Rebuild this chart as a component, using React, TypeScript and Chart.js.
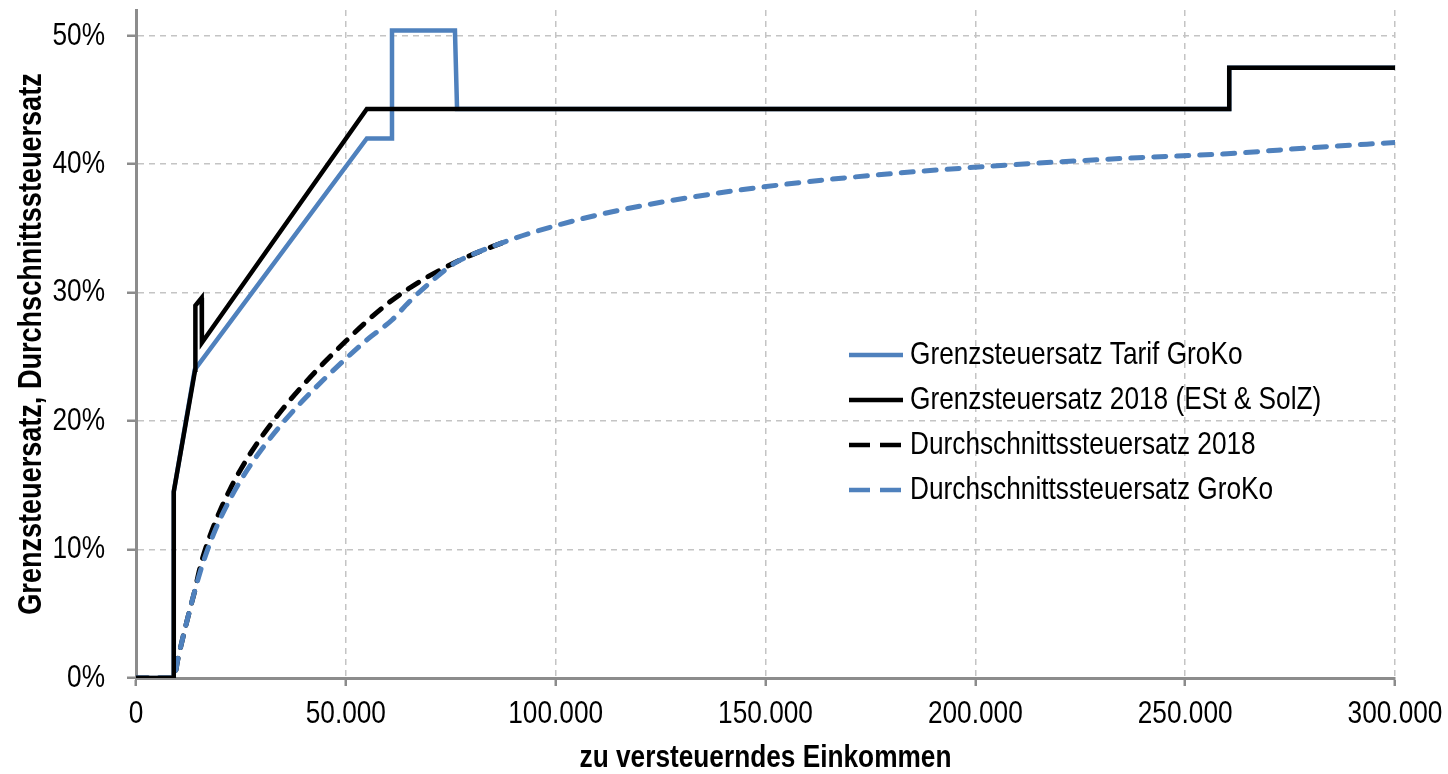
import React, { useEffect, useRef } from 'react';
import { Chart, registerables } from 'chart.js';

Chart.register(...registerables);

// ---- Data (income in EUR, rates in %) ----
const seriesLabels = [
  'Grenzsteuersatz Tarif GroKo',
  'Grenzsteuersatz 2018 (ESt & SolZ)',
  'Durchschnittssteuersatz 2018',
  'Durchschnittssteuersatz GroKo',
];

const grenzGroKoIncome = [0, 9000, 9000, 14000, 55000, 61000, 61000, 76000, 76500, 260500, 260500, 300000];
const grenzGroKoRate = [0, 0, 14.5, 24.0, 42.0, 42.0, 50.4, 50.4, 44.3, 44.3, 47.5, 47.5];

const grenz2018Income = [0, 9000, 9000, 14100, 14150, 15650, 15700, 55000, 260500, 260500, 300000];
const grenz2018Rate = [0, 0, 14.5, 24.0, 29.0, 29.6, 26.1, 44.3, 44.3, 47.5, 47.5];

const avg2018Income = [0, 9000, 10000, 11000, 12000, 13000, 14000, 15000, 16000, 18000, 20000, 22500, 25000, 27500, 30000, 35000, 40000, 45000, 50000, 55000, 60000, 65000, 70000, 76000, 80000, 88000];
const avg2018Rate = [0, 0, 1.5, 2.91, 4.25, 5.54, 6.78, 8.24, 9.48, 11.39, 13.01, 14.75, 16.26, 17.6, 18.81, 20.96, 22.87, 24.61, 26.23, 27.77, 29.15, 30.32, 31.32, 32.34, 32.94, 33.97];

const avgGroKoIncome = [0, 9000, 10000, 11000, 12000, 13000, 14000, 15000, 16000, 18000, 20000, 22500, 25000, 27500, 30000, 35000, 40000, 45000, 50000, 55000, 61000, 65000, 70000, 76000, 80000, 90000, 100000, 110000, 120000, 140000, 160000, 180000, 200000, 220000, 240000, 260000, 280000, 300000];
const avgGroKoRate = [0, 0, 1.5, 2.91, 4.25, 5.54, 6.78, 7.94, 8.99, 10.8, 12.34, 13.98, 15.41, 16.68, 17.83, 19.87, 21.68, 23.32, 24.86, 26.32, 27.87, 29.25, 30.76, 32.31, 32.94, 34.2, 35.21, 36.04, 36.73, 37.81, 38.63, 39.26, 39.76, 40.18, 40.52, 40.81, 41.28, 41.69];

const xTickStep = 50000;
const xMax = 300000;
const yTickStep = 10;
const yMax = 52;

const xTitle = 'zu versteuerndes Einkommen';
const yTitle = 'Grenzsteuersatz, Durchschnittssteuersatz';

// ---- Styles ----
const FONT = "'Liberation Sans', Arial, sans-serif";
const NARROW = 0.82; // horizontal squeeze to imitate a narrow face
const BLUE = '#4F81BD';
const BLACK = '#000000';
const GRID = '#c4c4c4';
const AXIS = '#8c8c8c';

const toPoints = (xs: number[], ys: number[]) => xs.map((x, i) => ({ x, y: ys[i] }));

const fmtThousands = (v: number) =>
  String(Math.round(v)).replace(/\B(?=(\d{3})+(?!\d))/g, '.');

function narrowText(ctx: CanvasRenderingContext2D) {
  const origFill = ctx.fillText.bind(ctx);
  const origMeasure = ctx.measureText.bind(ctx);
  (ctx as any).fillText = (text: string, x: number, y: number, maxWidth?: number) => {
    ctx.save();
    ctx.translate(x, y);
    ctx.scale(NARROW, 1);
    if (maxWidth !== undefined && maxWidth !== null) origFill(text, 0, 0, maxWidth / NARROW);
    else origFill(text, 0, 0);
    ctx.restore();
  };
  (ctx as any).measureText = (text: string) => {
    const m = origMeasure(text);
    return {
      width: m.width * NARROW,
      actualBoundingBoxAscent: m.actualBoundingBoxAscent,
      actualBoundingBoxDescent: m.actualBoundingBoxDescent,
      actualBoundingBoxLeft: m.actualBoundingBoxLeft * NARROW,
      actualBoundingBoxRight: m.actualBoundingBoxRight * NARROW,
      fontBoundingBoxAscent: (m as any).fontBoundingBoxAscent,
      fontBoundingBoxDescent: (m as any).fontBoundingBoxDescent,
    };
  };
}

const insideLegend = {
  id: 'insideLegend',
  afterDraw(chart: any) {
    const ctx = chart.ctx as CanvasRenderingContext2D;
    const x0 = 849;
    const x1 = 903;
    const tx = 910;
    const y0 = 355;
    const row = 45;
    ctx.save();
    ctx.font = `32px ${FONT}`;
    ctx.textBaseline = 'middle';
    ctx.textAlign = 'left';
    chart.data.datasets.forEach((ds: any, i: number) => {
      const y = y0 + i * row;
      ctx.strokeStyle = ds.borderColor;
      ctx.lineWidth = 4.5;
      ctx.lineCap = 'butt';
      ctx.setLineDash(ds.borderDash && ds.borderDash.length ? [21, 10] : []);
      ctx.beginPath();
      ctx.moveTo(x0, y);
      ctx.lineTo(x1, y);
      ctx.stroke();
      ctx.setLineDash([]);
      ctx.fillStyle = '#000';
      ctx.fillText(ds.label, tx, y);
    });
    ctx.restore();
  },
};

export default function App() {
  const canvasRef = useRef<HTMLCanvasElement | null>(null);

  useEffect(() => {
    const canvas = canvasRef.current;
    if (!canvas) return;
    const c2d = canvas.getContext('2d');
    if (c2d) narrowText(c2d);
    const chart = new Chart(canvas, {
      type: 'line',
      data: {
        datasets: [
          {
            label: seriesLabels[0],
            data: toPoints(grenzGroKoIncome, grenzGroKoRate),
            borderColor: BLUE,
            borderWidth: 4.5,
            tension: 0,
            pointRadius: 0,
            fill: false,
            order: 3,
          },
          {
            label: seriesLabels[1],
            data: toPoints(grenz2018Income, grenz2018Rate),
            borderColor: BLACK,
            borderWidth: 4.5,
            tension: 0,
            pointRadius: 0,
            fill: false,
            order: 0,
          },
          {
            label: seriesLabels[2],
            data: toPoints(avg2018Income, avg2018Rate),
            borderColor: BLACK,
            borderWidth: 5,
            borderDash: [12, 11],
            borderCapStyle: 'round',
            cubicInterpolationMode: 'monotone',
            pointRadius: 0,
            fill: false,
            order: 2,
          },
          {
            label: seriesLabels[3],
            data: toPoints(avgGroKoIncome, avgGroKoRate),
            borderColor: BLUE,
            borderWidth: 5,
            borderDash: [12, 11],
            borderCapStyle: 'round',
            cubicInterpolationMode: 'monotone',
            pointRadius: 0,
            fill: false,
            order: 1,
          },
        ],
      } as any,
      plugins: [insideLegend],
      options: {
        animation: false,
        responsive: true,
        maintainAspectRatio: false,
        devicePixelRatio: 1,
        layout: { padding: { top: 10, right: 53, bottom: 0, left: 0 } },
        plugins: {
          legend: { display: false },
          tooltip: { enabled: false },
        },
        scales: {
          x: {
            type: 'linear',
            min: 0,
            max: xMax,
            border: { display: true, color: AXIS, width: 3, dash: [6, 5] },
            grid: {
              color: GRID,
              lineWidth: 1.5,
              drawTicks: true,
              tickLength: 8,
              tickColor: AXIS,
              tickWidth: 2.5,
            },
            ticks: {
              stepSize: xTickStep,
              padding: 9,
              color: '#000',
              font: { family: FONT, size: 32 },
              maxRotation: 0,
              callback: (v: any) => fmtThousands(Number(v)),
            },
            title: {
              display: true,
              text: xTitle,
              color: '#000',
              font: { family: FONT, size: 32, weight: 'bold', lineHeight: 1 },
              padding: { top: 0, bottom: 0 },
            },
            afterFit: (scale: any) => {
              scale.height = 96;
              scale.paddingLeft = 0;
              scale.paddingRight = 0;
            },
          },
          y: {
            type: 'linear',
            min: 0,
            max: yMax,
            border: { display: true, color: AXIS, width: 3, dash: [6, 5] },
            grid: {
              color: GRID,
              lineWidth: 1.5,
              drawTicks: true,
              tickLength: 9,
              tickColor: AXIS,
              tickWidth: 2.5,
            },
            ticks: {
              stepSize: yTickStep,
              includeBounds: false,
              padding: 22,
              color: '#000',
              font: { family: FONT, size: 32 },
              callback: (v: any) => `${Math.round(Number(v))}%`,
            },
            title: {
              display: true,
              text: yTitle,
              color: '#000',
              font: { family: FONT, size: 33, weight: 'bold', lineHeight: 1 },
              padding: { top: 15, bottom: 0 },
            },
            afterFit: (scale: any) => {
              scale.width = 136;
              scale.paddingTop = 0;
              scale.paddingBottom = 0;
            },
          },
        },
      } as any,
    });
    return () => chart.destroy();
  }, []);

  return (
    <div style={{ position: 'fixed', left: 0, top: 0, width: 1448, height: 774, background: '#fff' }}>
      <canvas ref={canvasRef} />
    </div>
  );
}
